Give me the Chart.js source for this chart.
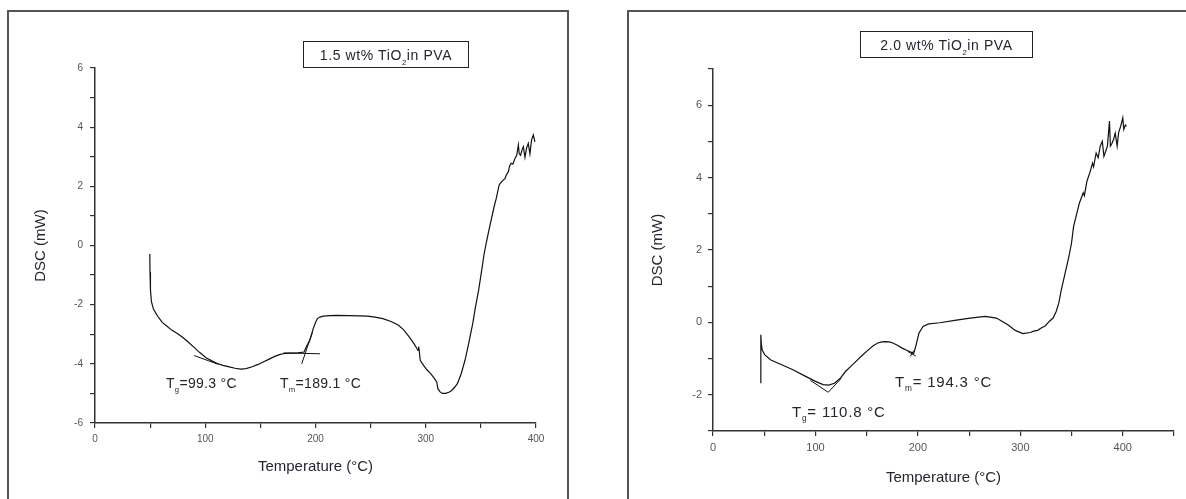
<!DOCTYPE html>
<html lang="en">
<head>
<meta charset="UTF-8">
<title>DSC of TiO2 in PVA</title>
<script src="https://cdn.jsdelivr.net/npm/chart.js"></script>
<style>
    body { margin: 0; background: #fff; width: 1186px; height: 499px; overflow: hidden; position: relative; font-family: "Liberation Sans", Arial, sans-serif; }
    .frame { position: absolute; border: 2px solid #555; box-sizing: border-box; }
    canvas { position: absolute; }
    .label { position: absolute; color: #2a2230; white-space: nowrap; line-height: 1; }
    .label sub { font-size: 55%; vertical-align: -4px; }
    .box { position: absolute; border: 1.5px solid #222; box-sizing: border-box; color: #2a2230; font-size: 14px; letter-spacing: 0.6px; text-align: center; white-space: nowrap; }
    .box span { position: relative; top: 5px; }
    .box sub { font-size: 55%; vertical-align: -5px; }
</style>
</head>
<body>
<div class="frame" style="left:7px; top:10px; width:562px; height:520px;"></div>
<div class="frame" style="left:627px; top:10px; width:600px; height:520px;"></div>

<canvas id="chartA" width="556" height="487" style="left:9px; top:12px;"></canvas>
<canvas id="chartB" width="557" height="487" style="left:629px; top:12px;"></canvas>

<div class="box" style="left:303px; top:41px; width:166px; height:27px;"><span>1.5 wt% TiO<sub>2</sub>in PVA</span></div>
<div class="box" style="left:860px; top:31px; width:173px; height:27px;"><span>2.0 wt% TiO<sub>2</sub>in PVA</span></div>

<div class="label" style="left:166px; top:376px; font-size:14px; letter-spacing:0.3px;">T<sub>g</sub>=99.3 °C</div>
<div class="label" style="left:280px; top:376px; font-size:14px; letter-spacing:0.3px;">T<sub>m</sub>=189.1 °C</div>
<div class="label" style="left:895px; top:374px; font-size:15px; letter-spacing:0.8px;">T<sub>m</sub>= 194.3 °C</div>
<div class="label" style="left:792px; top:404px; font-size:15px; letter-spacing:0.8px;">T<sub>g</sub>= 110.8 °C</div>

<script>
// 1.5 wt% sample
const tempA = [49.7, 49.9, 50.3, 51.2, 53, 55.7, 58, 61, 65, 69.6,
    75, 80, 85, 90.4, 95, 101, 106, 111, 116, 121.7,
    127, 132, 137, 142.6, 148, 153, 158, 163.5, 168, 172,
    178, 184, 189.6, 192, 194.8, 196.5, 198, 200, 201.7, 204,
    207, 213, 219, 230, 240, 247, 254, 261, 268, 275,
    280, 285, 289, 292, 293, 293.6, 294.2, 295, 298, 301,
    304.5, 308, 310, 311, 313, 315, 318, 321, 323.5, 326,
    328.7, 332, 335.6, 339, 342.6, 345, 348, 350.5, 353, 355.5,
    358, 362, 364, 366.5, 367.5, 370, 372, 373, 375, 376,
    377.5, 379, 381, 382.5, 384, 384.8, 386, 387.5, 388.5, 390,
    391.5, 393, 394.5, 396, 397.6, 399];
const dscA = [-0.29, -0.9, -1.5, -1.9, -2.15, -2.32, -2.45, -2.6, -2.72, -2.86,
    -2.98, -3.12, -3.28, -3.46, -3.62, -3.8, -3.9, -3.99, -4.05, -4.1,
    -4.15, -4.18, -4.16, -4.1, -4.02, -3.93, -3.84, -3.74, -3.68, -3.65,
    -3.64, -3.63, -3.6, -3.4, -3.2, -3.0, -2.8, -2.6, -2.47, -2.42,
    -2.39, -2.37, -2.36, -2.37, -2.38, -2.39, -2.42, -2.47, -2.56, -2.69,
    -2.85, -3.09, -3.3, -3.48, -3.55, -3.42, -3.6, -3.88, -4.05, -4.2,
    -4.33, -4.5, -4.62, -4.84, -4.95, -5.0, -5.0, -4.96, -4.9, -4.8,
    -4.67, -4.35, -3.88, -3.3, -2.64, -2.1, -1.5, -0.9, -0.27, 0.2,
    0.64, 1.31, 1.6, 2.04, 2.1, 2.2, 2.27, 2.38, 2.5, 2.68,
    2.78, 2.75, 2.95, 3.05, 3.4, 3.1, 3.05, 3.25, 3.34, 2.98,
    3.3, 3.45, 3.1, 3.57, 3.74, 3.5];
// tangent construction lines, 1.5 wt%
const tgA_T = [90, 112], tgA_V = [-3.72, -4.02];
const tmA1_T = [171, 204], tmA1_V = [-3.63, -3.66];
const tmA2_T = [187.5, 197], tmA2_V = [-4.0, -2.95];

// 2.0 wt% sample
const tempB = [46.7, 46.7, 47.2, 48, 50.4, 56, 67, 78, 89, 100,
    107.5, 113, 118.5, 124, 129.5, 135, 140.6, 146, 151.6, 156,
    160.8, 165, 168, 172, 175.5, 180, 184.7, 189, 194, 195.8,
    197.3, 198.7, 201, 205, 210.5, 221.5, 236, 251, 265.7, 276.7,
    287.8, 295, 302.5, 309.8, 313, 317, 320, 324.5, 328, 332,
    335, 337.5, 340, 343, 347.4, 350, 352, 355, 357.7, 361.4,
    362.5, 365, 368, 370.5, 371.5, 374, 376, 378, 380, 381.6,
    383, 385, 387, 387.9, 389.5, 391, 392.6, 394.5, 396, 398,
    400, 401, 402.5, 403.6];
const dscB = [-1.68, -0.34, -0.6, -0.76, -0.89, -1.03, -1.17, -1.31, -1.47, -1.63,
    -1.72, -1.73, -1.68, -1.55, -1.35, -1.2, -1.05, -0.9, -0.76, -0.65,
    -0.57, -0.54, -0.53, -0.54, -0.57, -0.63, -0.71, -0.77, -0.83, -0.86,
    -0.72, -0.57, -0.3, -0.11, -0.04, -0.01, 0.055, 0.12, 0.166, 0.12,
    -0.065, -0.22, -0.31, -0.28, -0.24, -0.22, -0.16, -0.09, 0.02, 0.12,
    0.3, 0.53, 0.9, 1.27, 1.82, 2.2, 2.65, 3.0, 3.3, 3.58,
    3.5, 3.9, 4.15, 4.4, 4.3, 4.68, 4.55, 4.87, 5.0, 4.59,
    4.7, 4.87, 5.56, 4.87, 4.95, 5.05, 5.23, 4.87, 5.25, 5.42,
    5.65, 5.33, 5.45, 5.42];
// tangent construction lines, 2.0 wt%
const tgB_T = [95, 112.5, 125], tgB_V = [-1.6, -1.93, -1.55];
const tmB1_T = [190, 198], tmB1_V = [-0.8, -0.93];
const tmB2_T = [192.5, 196], tmB2_V = [-0.94, -0.78];

function pts(xs, ys) {
    return xs.map((x, i) => ({ x: x, y: ys[i] }));
}

function line(xs, ys, w) {
    return {
        data: pts(xs, ys),
        showLine: true,
        borderColor: '#111',
        borderWidth: w,
        pointRadius: 0,
        tension: 0
    };
}

function makeChart(id, sets, o) {
    new Chart(document.getElementById(id), {
        type: 'scatter',
        data: { datasets: sets },
        options: {
            responsive: false,
            animation: false,
            layout: { padding: { left: 0, top: o.padTop, right: o.padRight, bottom: 0 } },
            plugins: { legend: { display: false }, tooltip: { enabled: false } },
            scales: {
                x: {
                    type: 'linear',
                    min: 0, max: o.xMax,
                    afterFit: s => { s.height = o.xAxisH; },
                    border: { color: '#333', width: 1.5 },
                    grid: { drawOnChartArea: false, drawTicks: true, tickLength: 5, color: '#333', lineWidth: 1.2 },
                    ticks: {
                        stepSize: 50, padding: o.tickPadX, color: '#555',
                        maxRotation: 0, autoSkip: false,
                        font: { family: 'Liberation Sans', size: o.tickSize },
                        callback: v => (v % 100 === 0 ? v : '')
                    },
                    title: {
                        display: true, text: 'Temperature (°C)', color: '#2a2230',
                        font: { family: 'Liberation Sans', size: 15 },
                        padding: { top: o.xTitlePad, bottom: o.xTitlePad }
                    }
                },
                y: {
                    type: 'linear',
                    min: o.yMin, max: o.yMax,
                    afterFit: s => { s.width = o.yAxisW; },
                    border: { color: '#333', width: 1.5 },
                    grid: { drawOnChartArea: false, drawTicks: true, tickLength: 5, color: '#333', lineWidth: 1.2 },
                    ticks: {
                        stepSize: 1, padding: o.tickPadY, color: '#555',
                        autoSkip: false,
                        font: { family: 'Liberation Sans', size: o.tickSize },
                        callback: v => (v % 2 === 0 ? v : '')
                    },
                    title: {
                        display: true, text: 'DSC (mW)', color: '#2a2230',
                        font: { family: 'Liberation Sans', size: 15 },
                        padding: { top: o.yTitlePad, bottom: o.yTitlePad }
                    }
                }
            }
        }
    });
}

makeChart('chartA', [
    line(tempA, dscA, 1.2),
    line(tgA_T, tgA_V, 1),
    line(tmA1_T, tmA1_V, 1),
    line(tmA2_T, tmA2_V, 1)
], {
    xMax: 400, yMin: -6, yMax: 6,
    padTop: 56, padRight: 29, xAxisH: 76, yAxisW: 86,
    xTitlePad: 23, yTitlePad: 23, tickPadX: 5, tickPadY: 7, tickSize: 10
});

makeChart('chartB', [
    line(tempB, dscB, 1.2),
    line(tgB_T, tgB_V, 1),
    line(tmB1_T, tmB1_V, 1),
    line(tmB2_T, tmB2_V, 1)
], {
    xMax: 450, yMin: -3, yMax: 7,
    padTop: 57, padRight: 12, xAxisH: 68, yAxisW: 84,
    xTitlePad: 12, yTitlePad: 20, tickPadX: 5, tickPadY: 6, tickSize: 11
});
</script>
</body>
</html>
